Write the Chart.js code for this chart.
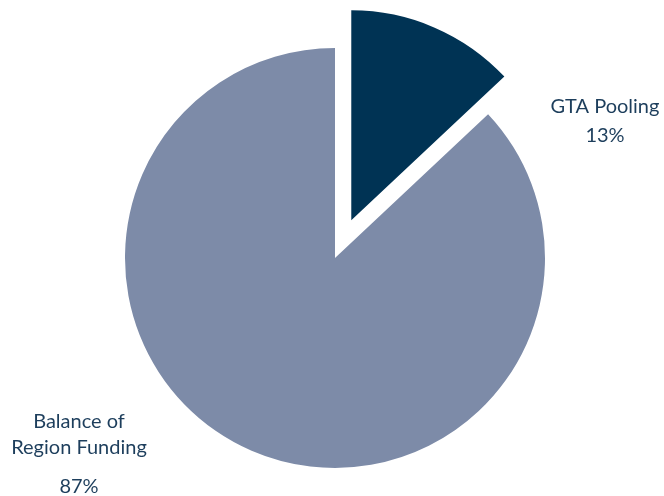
<!DOCTYPE html>
<html>
<head>
<meta charset="utf-8">
<script src="https://cdn.jsdelivr.net/npm/chart.js@4"></script>
<style>
  html, body { margin: 0; padding: 0; background: #fff; }
  #wrap { width: 664px; height: 496px; }
</style>
</head>
<body>
<div id="wrap"><canvas id="fundingChart"></canvas></div>
<script>
const categories = ["GTA Pooling", "Balance of Region Funding"];
const shares = [13, 87];
const sliceColors = ["#003354", "#7d8ba8"];

// label lines for each slice, drawn next to the pie
const labelLines = [
  ["GTA Pooling", "13%"],
  ["Balance of", "Region Funding", "", "87%"],
];

// pull slices out along their middle angle without shrinking or reshaping them
const explodeSlices = {
  id: "explodeSlices",
  afterDatasetUpdate(chart, args, opts) {
    args.meta.data.forEach((arc, i) => {
      const d = opts.distance[i] || 0;
      if (!d) return;
      const mid = (arc.startAngle + arc.endAngle) / 2;
      arc.x += Math.cos(mid) * d;
      arc.y += Math.sin(mid) * d;
    });
  },
};

const sliceLabels = {
  id: "sliceLabels",
  afterDatasetsDraw(chart, args, opts) {
    const ctx = chart.ctx;
    ctx.save();
    ctx.fillStyle = opts.color;
    ctx.font = opts.font;
    ctx.textAlign = "center";
    ctx.textBaseline = "alphabetic";
    opts.anchors.forEach((a, i) => {
      const value = chart.data.datasets[0].data[i];
      const lines = labelLines[i].map(l => l.replace(/\d+%/, value + "%"));
      let y = a.y;
      lines.forEach((line, j) => {
        if (line) ctx.fillText(line, a.x, y);
        y += a.gaps[j] || 0;
      });
    });
    ctx.restore();
  },
};

new Chart(document.getElementById("fundingChart"), {
  type: "pie",
  data: {
    labels: categories,
    datasets: [{
      data: shares,
      backgroundColor: sliceColors,
      borderWidth: 0,
    }],
  },
  options: {
    responsive: true,
    maintainAspectRatio: false,
    animation: false,
    layout: { padding: { top: 48, bottom: 28, left: 6, right: 0 } },
    plugins: {
      legend: { display: false },
      tooltip: { enabled: false },
      explodeSlices: { distance: [41, 0] },
      sliceLabels: {
        color: "#1d3e5c",
        font: "20px Lato",
        anchors: [
          { x: 605, y: 113, gaps: [29] },
          { x: 79, y: 428, gaps: [26, 0, 39] },
        ],
      },
    },
  },
  plugins: [explodeSlices, sliceLabels],
});
</script>
</body>
</html>
